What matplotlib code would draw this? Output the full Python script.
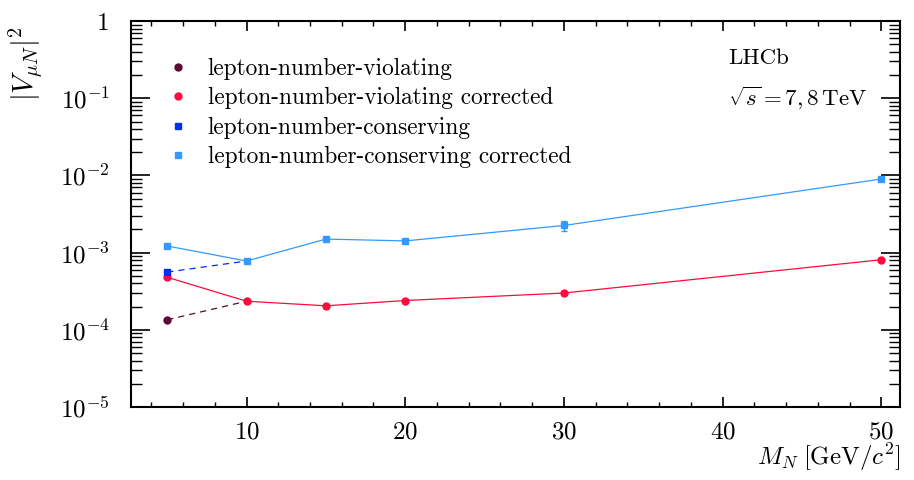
import numpy as np
import matplotlib
matplotlib.use("Agg")
import matplotlib.pyplot as plt
from matplotlib.ticker import FuncFormatter, LogLocator, MultipleLocator

plt.rcParams["font.family"] = "cmr10"
plt.rcParams["mathtext.fontset"] = "cm"
plt.rcParams["axes.formatter.use_mathtext"] = True

# heavy neutrino mass points
mass = [5, 10, 15, 20, 30, 50]

# lepton-number-violating (uncorrected only differs at 5 GeV)
lnv_mass = [5, 10]
lnv = [1.35e-4, 2.35e-4]
lnv_corr = [4.8e-4, 2.35e-4, 2.05e-4, 2.4e-4, 3.0e-4, 8.1e-4]

# lepton-number-conserving
lnc_mass = [5, 10]
lnc = [5.6e-4, 7.8e-4]
lnc_corr = [1.22e-3, 7.8e-4, 1.5e-3, 1.42e-3, 2.25e-3, 9.0e-3]
lnc_corr_err = [0.0, 0.0, 0.0, 0.0, 0.35e-3, 0.0]

c_lnv = "#5c0a33"
c_lnv_corr = "#ff0a3c"
c_lnc = "#0030f0"
c_lnc_corr = "#3399ff"


def decade_label(v, pos):
    if np.isclose(v, 1.0):
        return "1"
    return r"$10^{%d}$" % int(round(np.log10(v)))


fig, ax = plt.subplots(figsize=(9.14, 4.8), dpi=100)
fig.subplots_adjust(left=0.143, right=0.985, top=0.956, bottom=0.152)

ax.plot(lnv_mass, lnv, ls="--", color=c_lnv, lw=0.9, dashes=(5, 4))
ax.plot(lnc_mass, lnc, ls="--", color=c_lnc, lw=0.9, dashes=(5, 4))
ax.plot(mass, lnv_corr, color=c_lnv_corr, lw=0.9)
ax.plot(mass, lnc_corr, color=c_lnc_corr, lw=0.9)

ax.plot(lnv_mass[:1], lnv[:1], "o", color=c_lnv, ms=5, ls="none",
        label="lepton-number-violating")
ax.plot(mass, lnv_corr, "o", color=c_lnv_corr, ms=5, ls="none",
        label="lepton-number-violating corrected")
ax.plot(lnc_mass[:1], lnc[:1], "s", color=c_lnc, ms=5, ls="none",
        label="lepton-number-conserving")
ax.errorbar(mass, lnc_corr, yerr=lnc_corr_err, fmt="none", ecolor=c_lnc_corr,
            elinewidth=1, capsize=2)
ax.plot(mass, lnc_corr, "s", color=c_lnc_corr, ms=5, ls="none",
        label="lepton-number-conserving corrected")

ax.set_yscale("log")
ax.set_ylim(1e-5, 1)
ax.set_xlim(2.7, 51.2)

ax.yaxis.set_major_locator(LogLocator(base=10, numticks=10))
ax.yaxis.set_minor_locator(LogLocator(base=10, subs=np.arange(2, 10), numticks=10))
ax.yaxis.set_major_formatter(FuncFormatter(decade_label))
ax.xaxis.set_major_locator(MultipleLocator(10))
ax.xaxis.set_minor_locator(MultipleLocator(2))

ax.tick_params(which="both", direction="in", top=True, right=True, labelsize=18)
ax.tick_params(axis="x", which="major", length=7, width=1.2, pad=10)
ax.tick_params(axis="x", which="minor", length=3.5, width=1.0)
ax.tick_params(axis="y", which="major", length=14, width=1.2, pad=15)
ax.tick_params(axis="y", which="minor", length=8, width=1.0)
for s in ax.spines.values():
    s.set_linewidth(1.5)

ax.set_xlabel(r"$M_N\;[\mathrm{GeV}/c^2]$", fontsize=18, loc="right", labelpad=-1)
ax.set_ylabel(r"$|V_{\mu N}|^2$", fontsize=20.5, loc="top")
ax.yaxis.set_label_coords(-0.112, 0.987)

ax.legend(loc="upper left", frameon=False, fontsize=16.8, handletextpad=0.68,
          handlelength=1.2, borderaxespad=0.0, labelspacing=0.31,
          bbox_to_anchor=(0.031, 0.929))

ax.text(0.776, 0.905, "LHCb", transform=ax.transAxes, fontsize=16.5, ha="left", va="center")
ax.text(0.776, 0.80, r"$\sqrt{s} = 7, 8\,\mathrm{TeV}$", transform=ax.transAxes,
        fontsize=16.5, ha="left", va="center")

fig.savefig("out.png", dpi=100)
